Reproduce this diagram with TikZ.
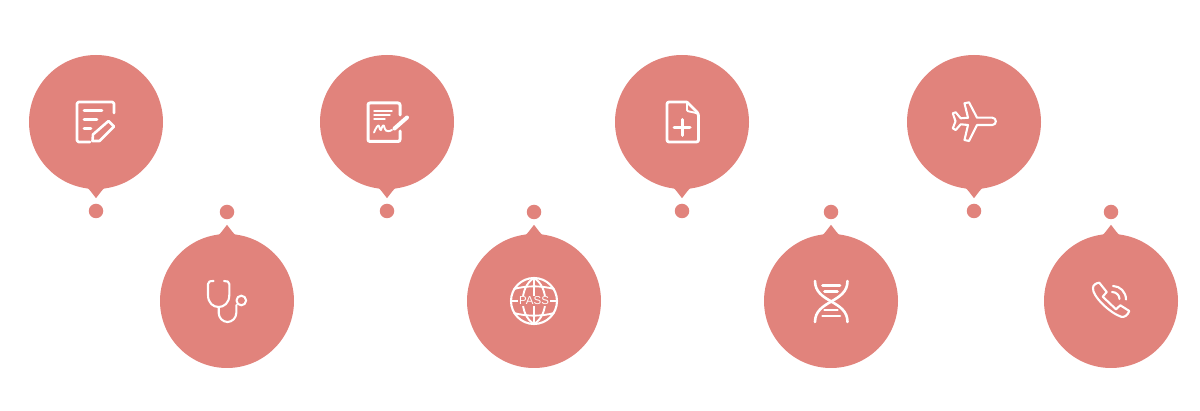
\documentclass[tikz,border=0pt]{standalone}
\usepackage{fontspec}
\setmainfont{Liberation Sans}
\definecolor{bubblered}{HTML}{E1837C}
\begin{document}
\begin{tikzpicture}[x=1pt,y=-1pt,bubble/.style={shape=circle,fill=bubblered,minimum size=134pt,inner sep=0},dotm/.style={shape=circle,fill=bubblered,minimum size=14.5pt,inner sep=0},pin/.style={fill=bubblered},icon/.style={draw=white,line width=2.6pt,line cap=round,line join=round},iconT/.style={icon,line width=1.4pt},iconB/.style={icon,line width=1.9pt},iconM/.style={icon,line width=2.1pt}]
\useasboundingbox (0,0) rectangle (1200,411);

% top row
\node[bubble] (A) at (96,122) {};
\node[dotm] (Ad) at (96,211) {};
\fill[pin] (A.south) ++(-10,-2) .. controls +(3,1) and +(-4,-5) .. ++(10,11) .. controls +(4,-5) and +(-3,1) .. ++(10,-11) -- cycle;
\node[bubble] (C) at (387,122) {};
\node[dotm] (Cd) at (387,211) {};
\fill[pin] (C.south) ++(-10,-2) .. controls +(3,1) and +(-4,-5) .. ++(10,11) .. controls +(4,-5) and +(-3,1) .. ++(10,-11) -- cycle;
\node[bubble] (E) at (682,122) {};
\node[dotm] (Ed) at (682,211) {};
\fill[pin] (E.south) ++(-10,-2) .. controls +(3,1) and +(-4,-5) .. ++(10,11) .. controls +(4,-5) and +(-3,1) .. ++(10,-11) -- cycle;
\node[bubble] (G) at (974,122) {};
\node[dotm] (Gd) at (974,211) {};
\fill[pin] (G.south) ++(-10,-2) .. controls +(3,1) and +(-4,-5) .. ++(10,11) .. controls +(4,-5) and +(-3,1) .. ++(10,-11) -- cycle;

% bottom row
\node[bubble] (B) at (227,301) {};
\node[dotm] (Bd) at (227,212) {};
\fill[pin] (B.north) ++(-10,2) .. controls +(3,-1) and +(-4,5) .. ++(10,-11) .. controls +(4,5) and +(-3,-1) .. ++(10,11) -- cycle;
\node[bubble] (D) at (534,301) {};
\node[dotm] (Dd) at (534,212) {};
\fill[pin] (D.north) ++(-10,2) .. controls +(3,-1) and +(-4,5) .. ++(10,-11) .. controls +(4,5) and +(-3,-1) .. ++(10,11) -- cycle;
\node[bubble] (F) at (831,301) {};
\node[dotm] (Fd) at (831,212) {};
\fill[pin] (F.north) ++(-10,2) .. controls +(3,-1) and +(-4,5) .. ++(10,-11) .. controls +(4,5) and +(-3,-1) .. ++(10,11) -- cycle;
\node[bubble] (H) at (1111,301) {};
\node[dotm] (Hd) at (1111,212) {};
\fill[pin] (H.north) ++(-10,2) .. controls +(3,-1) and +(-4,5) .. ++(10,-11) .. controls +(4,5) and +(-3,-1) .. ++(10,11) -- cycle;

% form with pencil
\draw[icon,rounded corners=1.5pt] (114,113) -- (114,102) -- (77,102) -- (77,142) -- (90,142);
\draw[icon] (84,110.5) -- (102,110.5);
\draw[icon] (84,119.5) -- (97,119.5);
\draw[icon] (84,128.5) -- (91,128.5);
\draw[icon] (92.5,141) -- (93,134.5) -- (108.5,121) -- (114,126.5) -- (99.5,141) -- cycle;

% signed sheet
\draw[icon,line width=3pt,rounded corners=2pt] (400,115) -- (400,103) -- (368,103) -- (368,141.5) -- (400,141.5) -- (400,131);
\draw[iconT] (374,111) -- (392,111);
\draw[iconT] (374,115) -- (390,115);
\draw[iconT] (374,119) -- (385,119);
\draw[iconB] (374,132.5) .. controls (376,128) and (378,124) .. (379,126) .. controls (380,129) and (380,131) .. (381,130) .. controls (382,127) and (383,124) .. (384,126) .. controls (385,130) and (386,133) .. (392,130);
\draw[icon,line width=4pt] (394.5,128.5) -- (407,117.5);

% sheet with plus
\draw[icon,line width=2.8pt,rounded corners=2pt] (687,102) -- (667,102) -- (667,142) -- (698.5,142) -- (698.5,113.5) -- (687,102);
\draw[iconB,rounded corners=1pt] (687,102) -- (687,111) -- (698.5,113.5);
\draw[icon,line width=3pt] (674,127.5) -- (690,127.5);
\draw[icon,line width=3pt] (682,119.5) -- (682,135.5);

% plane
\draw[iconM] (992.3,117.7) -- (977,117.7) -- (969,102.3) -- (964.5,103.3) -- (968,117.7) -- (960.7,118.3) -- (955.7,112.3) -- (952.8,113.3) -- (955.5,121.3) -- (952.8,128.3) -- (955.7,130) -- (960.7,124.3) -- (968,125) -- (964.5,140) -- (969,141) -- (977,125) -- (992.3,125) .. controls (997,125) and (997,117.7) .. (992.3,117.7) -- cycle;

% stethoscope
\draw[iconM] (213.5,281) .. controls (210,281) and (208,281.5) .. (208,284) -- (208,295) .. controls (208,303) and (213,307) .. (218.7,307) .. controls (224,307) and (229.3,303) .. (229.3,295) -- (229.3,284) .. controls (229.3,281.5) and (227,281) .. (224,281);
\draw[iconM] (218.7,307) -- (218.7,313) .. controls (218.7,318) and (223,322) .. (227.5,322) .. controls (232,322) and (236.3,318) .. (236.3,313) -- (236.3,305);
\draw[iconM] (241.3,300.5) circle [radius=4.8];

% globe
\draw[iconM] (534,301) circle [radius=23];
\draw[iconB] (534,278) .. controls (519,287) and (519,315) .. (534,324);
\draw[iconB] (534,278) .. controls (549,287) and (549,315) .. (534,324);
\draw[iconB] (534,278) -- (534,324);
\draw[iconB] (514,289) .. controls (526,285.5) and (542,285.5) .. (554,289);
\draw[iconB] (514,313) .. controls (526,316.5) and (542,316.5) .. (554,313);
\draw[iconB] (511,301) -- (557,301);
\node[fill=bubblered,inner xsep=1pt,inner ysep=1pt,text=white,font=\fontsize{11.5}{12}\selectfont] (Pass) at (534,301) {PASS};

% helix
\draw[icon] (815,281) .. controls (815,303) and (847.5,300) .. (847.5,322);
\draw[icon] (847.5,281) .. controls (847.5,303) and (815,300) .. (815,322);
\draw[icon] (822.5,285.5) -- (840,285.5);
\draw[icon] (824.5,291.5) -- (837.5,291.5);
\draw[icon] (824.5,310) -- (837.5,310);
\draw[icon] (822.5,316) -- (840,316);

% phone
\draw[iconM] (1099.3,282.7) -- (1106.7,292) -- (1102.7,296.7) -- (1116,309.3) -- (1120.3,305.3) -- (1129.3,311) .. controls (1128,315) and (1124,318) .. (1121,316.7) .. controls (1110,313) and (1092,296) .. (1093,288) .. controls (1093,285) and (1096,283) .. (1099.3,282.7) -- cycle;
\draw[iconM] (1113,286) .. controls (1120,286) and (1126,292) .. (1126,299.5);
\draw[iconM] (1112,292) .. controls (1116,292) and (1119.5,295) .. (1119.5,299);
\end{tikzpicture}
\end{document}
